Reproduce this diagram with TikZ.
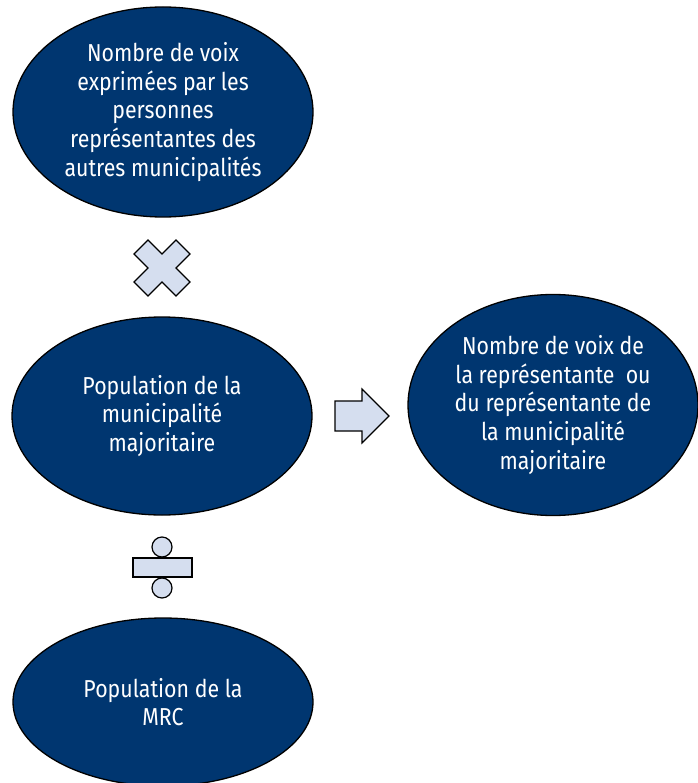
\documentclass[tikz,border=0pt]{standalone}
\usepackage{fontspec}
\setmainfont[FakeStretch=0.87]{Fira Sans}
\usepackage{xcolor}
\definecolor{bleufonce}{RGB}{0,54,112}
\definecolor{bleupale}{RGB}{213,222,239}
\usetikzlibrary{shapes.geometric}

\begin{document}
\begin{tikzpicture}[x=1pt, y=-1pt,
	bulle/.style={ellipse, draw=black, line width=1.3pt, fill=bleufonce, text=white, inner sep=0pt, align=center, font=\fontsize{24.5}{28.8}\selectfont},
	signe/.style={draw=black, line width=1.2pt, fill=bleupale, line join=miter}]
	\useasboundingbox (0,0) rectangle (697,783);
	\node[bulle, minimum width=300pt, minimum height=210pt] (voix) at (163,112) {Nombre de voix\\exprimées par les\\personnes\\représentantes des\\autres municipalités};
	\node[bulle, minimum width=300pt, minimum height=198pt] (popmaj) at (162,416) {Population de la\\municipalité\\majoritaire};
	\node[bulle, minimum width=290pt, minimum height=221pt] (resultat) at (553,405) {Nombre de voix de\\la représentante\ \ ou\\du représentante de\\la municipalité\\majoritaire};
	\node[bulle, minimum width=300pt, minimum height=168pt] (popmrc) at (163,702) {Population de la\\MRC};
	\draw[signe] (162,254) -- ++(14,-14) -- ++(14,14) -- ++(-14,14) -- ++(14,14) -- ++(-14,14) -- ++(-14,-14) -- ++(-14,14) -- ++(-14,-14) -- ++(14,-14) -- ++(-14,-14) -- ++(14,-14) -- cycle;
	\draw[signe] (335,401) -- (362,401) -- (362,389) -- (389,416) -- (362,443) -- (362,431) -- (335,431) -- cycle;
	\draw[signe] (133,558) rectangle (192,577);
	\foreach \y in {547,588}
	{
		\draw[signe] (162,\y) circle (10pt);
	}
\end{tikzpicture}
\end{document}
